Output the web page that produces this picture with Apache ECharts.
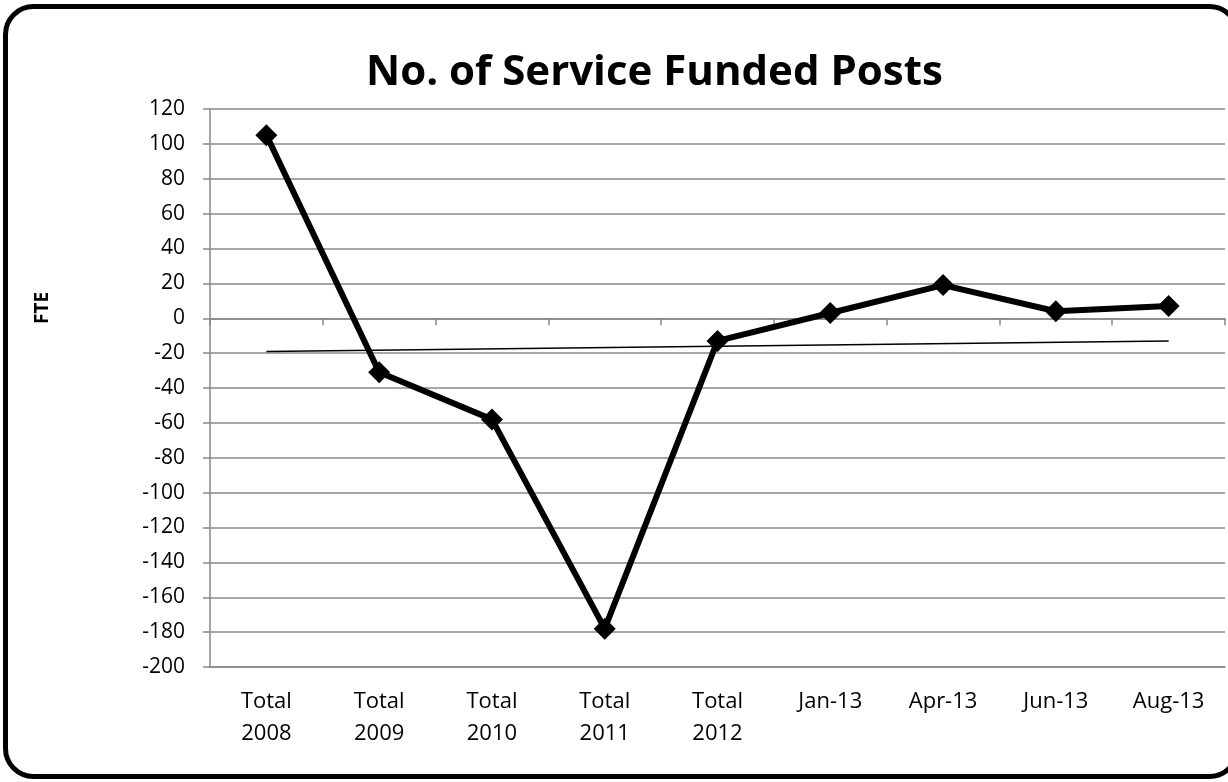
<!DOCTYPE html>
<html>
<head>
<meta charset="utf-8">
<script src="https://cdn.jsdelivr.net/npm/echarts@6/dist/echarts.min.js"></script>
<style>
html,body{margin:0;padding:0;background:#fff;}
#chart{width:1228px;height:782px;}
</style>
</head>
<body>
<div id="chart"></div>
<script>
const categories = ['Total\n2008','Total\n2009','Total\n2010','Total\n2011','Total\n2012','Jan-13','Apr-13','Jun-13','Aug-13'];
const fteValues = [105, -31, -58, -178, -13, 3, 19, 4, 7];
const trendValues = [-19, null, null, null, null, null, null, null, -13];
const titleText = 'No. of Service Funded Posts';
const yAxisName = 'FTE';

const FONT = '"Open Sans", "Liberation Sans", sans-serif';
const chart = echarts.init(document.getElementById('chart'));
chart.setOption({
  animation: false,
  backgroundColor: '#fff',
  title: {
    text: titleText,
    left: 361,
    top: 47,
    textStyle: {fontFamily: FONT, fontWeight: 'bold', fontSize: 42, color: '#000'}
  },
  graphic: [
    {type: 'rect', shape: {x: 5.5, y: 6.5, width: 1232, height: 770, r: 28},
     style: {fill: 'none', stroke: '#000', lineWidth: 5}, silent: true, z: 100},
    {type: 'text', x: 43, y: 308, rotation: Math.PI / 2,
     style: {text: yAxisName, fontFamily: FONT, fontWeight: 'bold', fontSize: 19, fill: '#000', align: 'center', verticalAlign: 'middle'}}
  ],
  grid: {left: 210, top: 109, right: 3, bottom: 115, containLabel: false},
  xAxis: [
    {
      type: 'category', data: categories, position: 'bottom', boundaryGap: true,
      axisLine: {show: true, onZero: false, lineStyle: {color: '#888', width: 1.5}},
      axisTick: {show: false},
      axisLabel: {fontFamily: FONT, fontSize: 22, color: '#000', margin: 19, lineHeight: 32, interval: 0, verticalAlign: 'top'}
    },
    {
      type: 'category', data: categories, position: 'top', boundaryGap: true,
      axisLine: {show: true, onZero: true, lineStyle: {color: '#888', width: 1.5}},
      axisTick: {show: true, inside: true, length: 7, interval: 0, lineStyle: {color: '#888', width: 1.5}},
      axisLabel: {show: false}
    }
  ],
  yAxis: {
    type: 'value', min: -200, max: 120, interval: 20,
    axisLine: {show: true, lineStyle: {color: '#888', width: 1.5}},
    axisTick: {show: true, length: 7, lineStyle: {color: '#888', width: 1.5}},
    splitLine: {show: true, lineStyle: {color: '#888', width: 1.5}},
    axisLabel: {fontFamily: FONT, fontSize: 21, color: '#000', margin: 25}
  },
  series: [
    {
      type: 'line', data: fteValues, xAxisIndex: 0,
      symbol: 'diamond', symbolSize: 22,
      lineStyle: {color: '#000', width: 6},
      itemStyle: {color: '#000'},
      z: 5
    },
    {
      type: 'line', data: trendValues, xAxisIndex: 0, connectNulls: true,
      symbol: 'none', lineStyle: {color: '#000', width: 1.5}, z: 4
    }
  ]
});
</script>
</body>
</html>
